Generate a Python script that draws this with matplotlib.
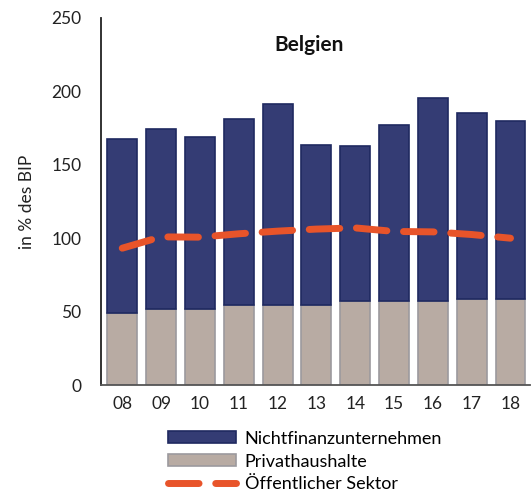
import matplotlib.pyplot as plt
import numpy as np

plt.rcParams['font.family'] = ['Lato', 'DejaVu Sans']

# Daten (in % des BIP)
jahre = ['08', '09', '10', '11', '12', '13', '14', '15', '16', '17', '18']
gesamt = [167.8, 174.2, 169.2, 181.0, 191.6, 163.7, 162.5, 176.9, 195.4, 185.1, 179.7]
privat = [49.1, 51.8, 51.8, 54.6, 54.6, 54.6, 57.3, 57.3, 57.3, 58.7, 58.7]
oeffentlich = [93.2, 100.9, 100.7, 103.0, 104.8, 106.2, 107.0, 104.6, 104.3, 102.5, 100.0]

nfu = [g - p for g, p in zip(gesamt, privat)]
x = np.arange(len(jahre))

fig = plt.figure(figsize=(5.31, 4.95), dpi=100)
ax = fig.add_axes([0.190, 0.222, 0.808, 0.742])

b1 = ax.bar(x, privat, width=0.77, color='#B8ABA3', edgecolor='#9C9A9E', linewidth=1.2,
            label='Privathaushalte')
b2 = ax.bar(x, nfu, bottom=privat, width=0.77, color='#343C74', edgecolor='#1F2960',
            linewidth=1.2, label='Nichtfinanzunternehmen')
l1, = ax.plot(x, oeffentlich, color='#E8542A', linewidth=5, dashes=(4.4, 2.4),
              dash_capstyle='round', label='Öffentlicher Sektor')

ax.set_xlim(-0.55, 10.5)
ax.set_ylim(0, 250)
ax.set_yticks([0, 50, 100, 150, 200, 250])
ax.set_xticks(x)
ax.set_xticklabels(jahre)
ax.tick_params(axis='both', length=0, labelsize=12.5, colors='#222222', pad=8)
ax.tick_params(axis='y', pad=14)
for s in ['top', 'right']:
    ax.spines[s].set_visible(False)
ax.spines['left'].set_linewidth(1.3)
ax.spines['bottom'].set_linewidth(1.3)
ax.spines['left'].set_color('#222222')
ax.spines['bottom'].set_color('#555555')

ax.set_ylabel('in % des BIP', fontsize=12.5, color='#222222', labelpad=12)
ax.text(0.486, 0.926, 'Belgien', transform=ax.transAxes, ha='center', va='center',
        fontsize=15, fontweight='bold', color='#111111')

fig.legend([b2, b1, l1], ['Nichtfinanzunternehmen', 'Privathaushalte', 'Öffentlicher Sektor'],
           loc='upper left', bbox_to_anchor=(0.316, 0.130), frameon=False,
           fontsize=13, handlelength=3.8, handleheight=0.65, labelspacing=0.38,
           handletextpad=0.45, borderaxespad=0, borderpad=0)

fig.savefig('out.png', dpi=100)
